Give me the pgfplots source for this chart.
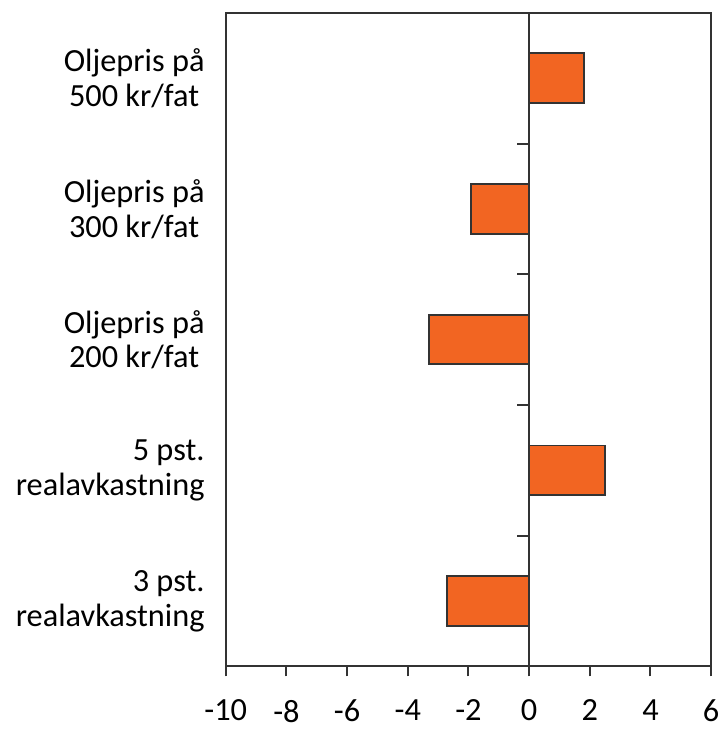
\documentclass[border=0pt]{standalone}
\usepackage{pgfplots}
\pgfplotsset{compat=1.18}
\usepackage{fontspec}
\setmainfont{Carlito}
\definecolor{barorange}{HTML}{F26522}
\definecolor{edgegray}{HTML}{333333}
\begin{document}
\begin{tikzpicture}
\begin{axis}[
  name=ax,
  scale only axis,
  width=195.2pt, height=262.8pt,
  xbar, bar shift=0pt, bar width=0.38,
  xmin=-10, xmax=6,
  ymin=-0.5, ymax=4.5,
  xtick={-10,-8,...,6},
  ytick={0,1,2,3,4},
  yticklabels={{3 pst.\\realavkastning},{5 pst.\\realavkastning},{Oljepris på\\200 kr/fat\,},{Oljepris på\\300 kr/fat\,},{Oljepris på\\500 kr/fat\,}},
  xtick pos=left,
  tick align=outside,
  xtick style={draw=edgegray, line width=0.8pt},
  major tick length=4pt,
  ytick style={draw=none},
  axis line style={draw=edgegray, line width=0.8pt},
  /pgf/number format/assume math mode=true,
  xticklabel style={font=\fontsize{13}{14}\selectfont, yshift=-6pt},
  yticklabel style={font=\fontsize{13}{14}\selectfont, align=right, xshift=-1pt},
]
\addplot[fill=barorange, draw=edgegray, line width=0.8pt] coordinates {
  (-2.7,0) (2.5,1) (-3.3,2) (-1.9,3) (1.8,4)
};
\draw[edgegray, line width=0.8pt] (axis cs:0,-0.5) -- (axis cs:0,4.5);
\draw[edgegray, line width=0.8pt] (axis cs:0,0.5) -- (axis cs:-0.4,0.5);
\draw[edgegray, line width=0.8pt] (axis cs:0,1.5) -- (axis cs:-0.4,1.5);
\draw[edgegray, line width=0.8pt] (axis cs:0,2.5) -- (axis cs:-0.4,2.5);
\draw[edgegray, line width=0.8pt] (axis cs:0,3.5) -- (axis cs:-0.4,3.5);
\end{axis}
\path (ax.south west) ++(-90.8pt,-26pt) coordinate (bbA);
\path (ax.north east) ++(5.2pt,5.2pt) coordinate (bbB);
\pgfresetboundingbox
\useasboundingbox (bbA) rectangle (bbB);
\end{tikzpicture}
\end{document}
